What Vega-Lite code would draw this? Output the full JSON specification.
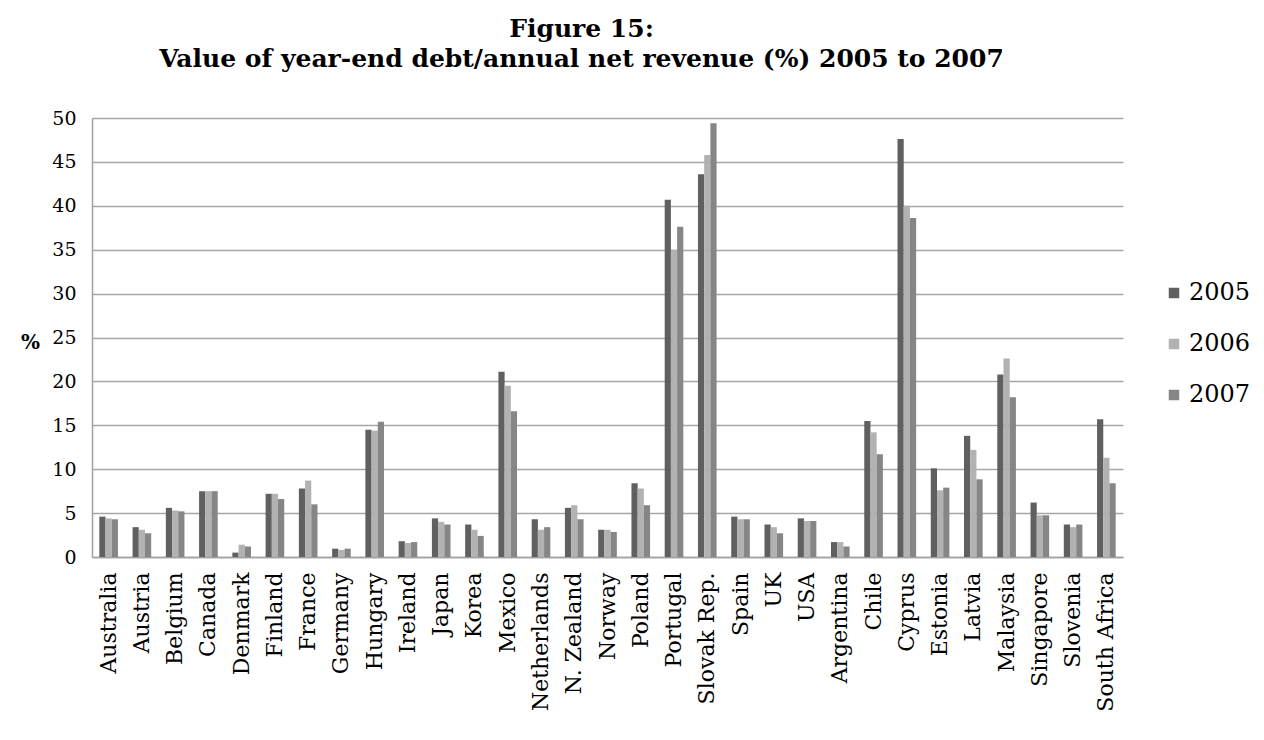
{
  "$schema": "https://vega.github.io/schema/vega-lite/v6.json",
  "autosize": {"type": "none"},
  "padding": {"left": 92, "top": 118, "right": 141, "bottom": 183},
  "width": 1031,
  "height": 439,
  "background": "white",
  "title": {
    "text": ["Figure 15:", "Value of year-end debt/annual net revenue (%) 2005 to 2007"],
    "font": "DejaVu Serif",
    "fontSize": 25,
    "fontWeight": "bold",
    "color": "#000000",
    "anchor": "middle",
    "dx": -26,
    "offset": 37,
    "lineHeight": 30
  },
  "data": {
    "values": [
      {"country": "Australia", "year": "2005", "value": 4.6}, {"country": "Australia", "year": "2006", "value": 4.4}, {"country": "Australia", "year": "2007", "value": 4.3},
      {"country": "Austria", "year": "2005", "value": 3.4}, {"country": "Austria", "year": "2006", "value": 3.1}, {"country": "Austria", "year": "2007", "value": 2.7},
      {"country": "Belgium", "year": "2005", "value": 5.6}, {"country": "Belgium", "year": "2006", "value": 5.3}, {"country": "Belgium", "year": "2007", "value": 5.2},
      {"country": "Canada", "year": "2005", "value": 7.5}, {"country": "Canada", "year": "2006", "value": 7.5}, {"country": "Canada", "year": "2007", "value": 7.5},
      {"country": "Denmark", "year": "2005", "value": 0.5}, {"country": "Denmark", "year": "2006", "value": 1.4}, {"country": "Denmark", "year": "2007", "value": 1.2},
      {"country": "Finland", "year": "2005", "value": 7.2}, {"country": "Finland", "year": "2006", "value": 7.2}, {"country": "Finland", "year": "2007", "value": 6.6},
      {"country": "France", "year": "2005", "value": 7.8}, {"country": "France", "year": "2006", "value": 8.7}, {"country": "France", "year": "2007", "value": 6.0},
      {"country": "Germany", "year": "2005", "value": 0.95}, {"country": "Germany", "year": "2006", "value": 0.8}, {"country": "Germany", "year": "2007", "value": 0.95},
      {"country": "Hungary", "year": "2005", "value": 14.5}, {"country": "Hungary", "year": "2006", "value": 14.4}, {"country": "Hungary", "year": "2007", "value": 15.4},
      {"country": "Ireland", "year": "2005", "value": 1.8}, {"country": "Ireland", "year": "2006", "value": 1.6}, {"country": "Ireland", "year": "2007", "value": 1.7},
      {"country": "Japan", "year": "2005", "value": 4.4}, {"country": "Japan", "year": "2006", "value": 4.0}, {"country": "Japan", "year": "2007", "value": 3.7},
      {"country": "Korea", "year": "2005", "value": 3.7}, {"country": "Korea", "year": "2006", "value": 3.1}, {"country": "Korea", "year": "2007", "value": 2.4},
      {"country": "Mexico", "year": "2005", "value": 21.1}, {"country": "Mexico", "year": "2006", "value": 19.5}, {"country": "Mexico", "year": "2007", "value": 16.6},
      {"country": "Netherlands", "year": "2005", "value": 4.3}, {"country": "Netherlands", "year": "2006", "value": 3.1}, {"country": "Netherlands", "year": "2007", "value": 3.4},
      {"country": "N. Zealand", "year": "2005", "value": 5.6}, {"country": "N. Zealand", "year": "2006", "value": 5.9}, {"country": "N. Zealand", "year": "2007", "value": 4.3},
      {"country": "Norway", "year": "2005", "value": 3.1}, {"country": "Norway", "year": "2006", "value": 3.1}, {"country": "Norway", "year": "2007", "value": 2.85},
      {"country": "Poland", "year": "2005", "value": 8.4}, {"country": "Poland", "year": "2006", "value": 7.8}, {"country": "Poland", "year": "2007", "value": 5.9},
      {"country": "Portugal", "year": "2005", "value": 40.7}, {"country": "Portugal", "year": "2006", "value": 35.0}, {"country": "Portugal", "year": "2007", "value": 37.6},
      {"country": "Slovak Rep.", "year": "2005", "value": 43.6}, {"country": "Slovak Rep.", "year": "2006", "value": 45.8}, {"country": "Slovak Rep.", "year": "2007", "value": 49.4},
      {"country": "Spain", "year": "2005", "value": 4.6}, {"country": "Spain", "year": "2006", "value": 4.3}, {"country": "Spain", "year": "2007", "value": 4.3},
      {"country": "UK", "year": "2005", "value": 3.7}, {"country": "UK", "year": "2006", "value": 3.4}, {"country": "UK", "year": "2007", "value": 2.7},
      {"country": "USA", "year": "2005", "value": 4.4}, {"country": "USA", "year": "2006", "value": 4.1}, {"country": "USA", "year": "2007", "value": 4.1},
      {"country": "Argentina", "year": "2005", "value": 1.7}, {"country": "Argentina", "year": "2006", "value": 1.7}, {"country": "Argentina", "year": "2007", "value": 1.2},
      {"country": "Chile", "year": "2005", "value": 15.5}, {"country": "Chile", "year": "2006", "value": 14.2}, {"country": "Chile", "year": "2007", "value": 11.7},
      {"country": "Cyprus", "year": "2005", "value": 47.6}, {"country": "Cyprus", "year": "2006", "value": 40.0}, {"country": "Cyprus", "year": "2007", "value": 38.6},
      {"country": "Estonia", "year": "2005", "value": 10.1}, {"country": "Estonia", "year": "2006", "value": 7.6}, {"country": "Estonia", "year": "2007", "value": 7.9},
      {"country": "Latvia", "year": "2005", "value": 13.8}, {"country": "Latvia", "year": "2006", "value": 12.2}, {"country": "Latvia", "year": "2007", "value": 8.85},
      {"country": "Malaysia", "year": "2005", "value": 20.8}, {"country": "Malaysia", "year": "2006", "value": 22.6}, {"country": "Malaysia", "year": "2007", "value": 18.2},
      {"country": "Singapore", "year": "2005", "value": 6.2}, {"country": "Singapore", "year": "2006", "value": 4.75}, {"country": "Singapore", "year": "2007", "value": 4.75},
      {"country": "Slovenia", "year": "2005", "value": 3.7}, {"country": "Slovenia", "year": "2006", "value": 3.4}, {"country": "Slovenia", "year": "2007", "value": 3.7},
      {"country": "South Africa", "year": "2005", "value": 15.7}, {"country": "South Africa", "year": "2006", "value": 11.3}, {"country": "South Africa", "year": "2007", "value": 8.4}
    ]
  },
  "mark": {"type": "bar"},
  "encoding": {
    "x": {
      "field": "country",
      "type": "nominal",
      "sort": null,
      "scale": {"paddingInner": 0.44, "paddingOuter": 0.22},
      "axis": {
        "title": null,
        "labelAngle": -90,
        "labelAlign": "right",
        "labelBaseline": "middle",
        "labelFont": "DejaVu Serif",
        "labelFontSize": 22,
        "labelColor": "#000000",
        "labelPadding": 15,
        "labelOverlap": false,
        "ticks": false,
        "domainColor": "#a0a0a0",
        "domainWidth": 1.5,
        "grid": false
      }
    },
    "xOffset": {"field": "year", "type": "nominal", "scale": {"paddingInner": 0, "paddingOuter": 0}},
    "y": {
      "field": "value",
      "type": "quantitative",
      "scale": {"domain": [0, 50], "nice": false},
      "axis": {
        "values": [0, 5, 10, 15, 20, 25, 30, 35, 40, 45, 50],
        "title": "%",
        "titleAngle": 0,
        "titleFont": "DejaVu Serif",
        "titleFontSize": 20,
        "titleFontWeight": "bold",
        "titleColor": "#000000",
        "titleX": -62,
        "titleY": 224,
        "titleAlign": "center",
        "titleBaseline": "middle",
        "labelFont": "DejaVu Serif",
        "labelFontSize": 19,
        "labelColor": "#000000",
        "labelPadding": 16,
        "ticks": false,
        "domainColor": "#a0a0a0",
        "domainWidth": 1.5,
        "gridColor": "#a6a6a6",
        "gridWidth": 1.5
      }
    },
    "color": {
      "field": "year",
      "type": "nominal",
      "scale": {"domain": ["2005", "2006", "2007"], "range": ["#606060", "#b2b2b2", "#868686"]},
      "legend": {
        "title": null,
        "orient": "none",
        "legendX": 1070,
        "legendY": 163,
        "symbolType": "square",
        "symbolSize": 110,
        "symbolStrokeWidth": 0,
        "labelFont": "DejaVu Serif",
        "labelFontSize": 24,
        "labelColor": "#000000",
        "labelOffset": 3,
        "rowPadding": 27
      }
    }
  },
  "config": {
    "view": {"stroke": null}
  }
}
